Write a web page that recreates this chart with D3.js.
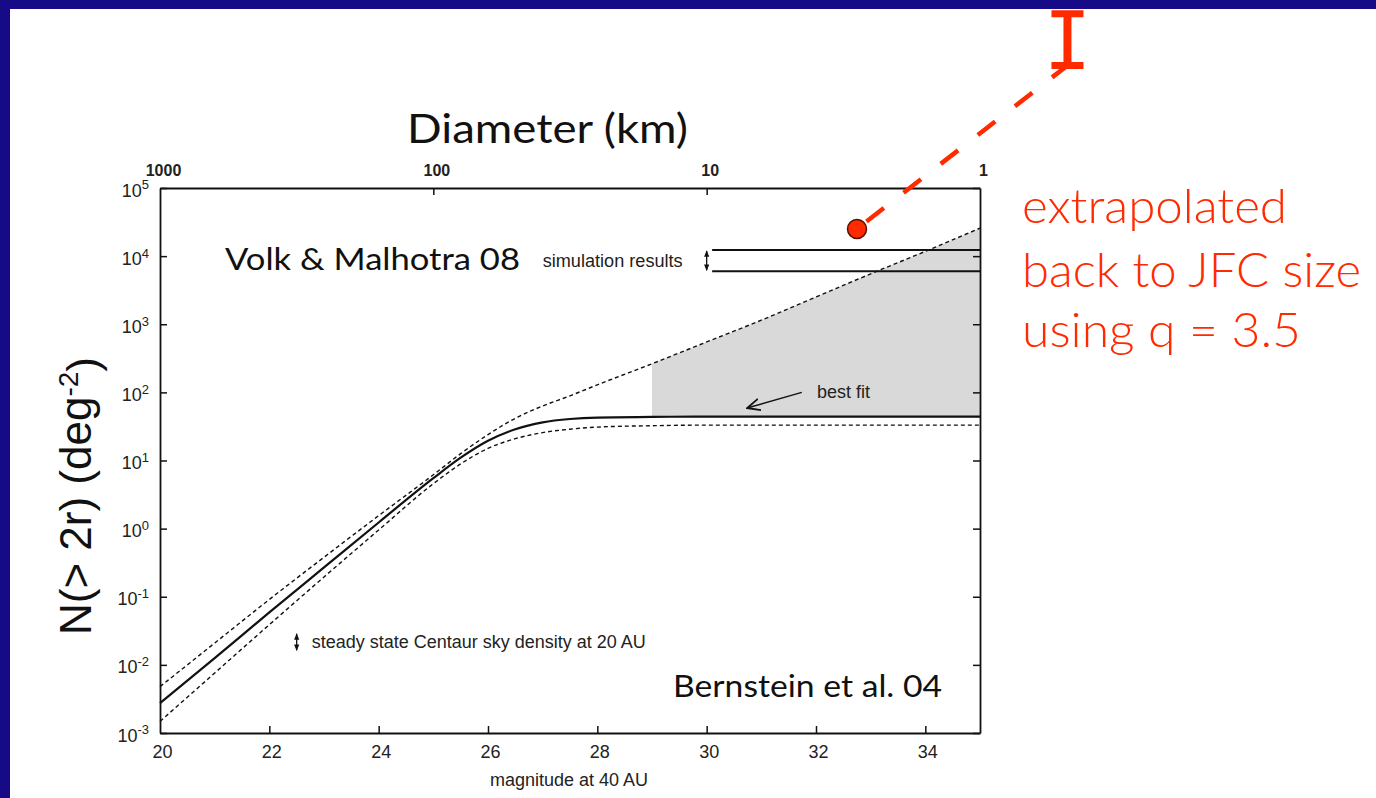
<!DOCTYPE html>
<html>
<head>
<meta charset="utf-8">
<script src="https://cdn.jsdelivr.net/npm/d3@7"></script>
<style>
  html, body { margin: 0; padding: 0; background: #ffffff; }
  svg { display: block; }
</style>
</head>
<body>
<svg id="chart" width="1376" height="798"></svg>
<script>
// Cumulative sky density of trans-Neptunian objects vs. magnitude at 40 AU
const magnitudes = [20, 21, 22, 23, 24, 25, 25.5, 26, 26.5, 27, 27.5, 28, 29, 30, 31, 32, 33, 34, 35];
const bestFit    = [0.00275, 0.0126, 0.0589, 0.269, 1.23, 5.5, 11.0, 19.5, 28.8, 36.3, 40.7, 42.7, 43.6, 44.2, 44.2, 44.2, 44.2, 44.2, 44.2];
const upperBound = [0.00479, 0.0209, 0.0912, 0.380, 1.55, 6.17, 12.6, 24.0, 41.7, 63.1, 89.1, 129, 263, 550, 1148, 2512, 5495, 11750, 25700];
const lowerBound = [0.00148, 0.00759, 0.0389, 0.195, 0.955, 4.57, 8.91, 15.1, 20.9, 25.7, 28.8, 30.9, 32.4, 33.1, 33.1, 33.1, 33.1, 33.1, 33.1];

// Volk & Malhotra 08 simulated range, drawn over 30–35 mag
const simulationRange = [12300, 6000];
const simulationMags = [30.1, 35];
// Steady-state Centaur sky density at 20 AU
const centaurMag = 22.5;
const centaurRange = [0.0295, 0.0158];
// Shading of allowed faint-end region starts here
const shadeStartMag = 29;

// Extrapolation to JFC size with q = 3.5
const extrapStart = { mag: 32.75, n: 25100 };
const extrapBar = { mag: 36.6, low: 6.3e6, high: 3.6e7 };

// Axes
const xDomain = [20, 35];
const yDomain = [1e-3, 1e5];
const xTicks = [20, 22, 24, 26, 28, 30, 32, 34];
const yTicks = [1e-3, 1e-2, 1e-1, 1e0, 1e1, 1e2, 1e3, 1e4, 1e5];
const diameterTicks = [1000, 100, 10, 1];

const svg = d3.select("#chart");
const W = 1376, H = 798;
const plot = { left: 160, right: 980, top: 188, bottom: 733 };

const x = d3.scaleLinear().domain(xDomain).range([plot.left, plot.right]);
const y = d3.scaleLog().domain(yDomain).range([plot.bottom, plot.top]);
// Diameter (km) on top: 5 magnitudes per decade in size
const xd = d3.scaleLog().domain([1000, 1]).range([plot.left, plot.right]);

const helv = "'Liberation Sans', Arial, Helvetica, sans-serif";
const humanist = "Lato, 'Open Sans', sans-serif";

// page frame
svg.append("rect").attr("x", 0).attr("y", 0).attr("width", W).attr("height", H).attr("fill", "#ffffff");
svg.append("rect").attr("x", 0).attr("y", 0).attr("width", W).attr("height", 9).attr("fill", "#170a87");
svg.append("rect").attr("x", 0).attr("y", 0).attr("width", 10).attr("height", H).attr("fill", "#170a87");

const rows = magnitudes.map((m, i) => ({ m, best: bestFit[i], up: upperBound[i], lo: lowerBound[i] }));

// shaded region between best fit and upper bound
const area = d3.area()
  .x(d => x(d.m))
  .y0(d => y(d.best))
  .y1(d => y(d.up))
  .curve(d3.curveMonotoneX);
svg.append("path")
  .datum(rows.filter(d => d.m >= shadeStartMag))
  .attr("d", area)
  .attr("fill", "#d9d9d9");

const lineOf = key => d3.line().x(d => x(d.m)).y(d => y(d[key])).curve(d3.curveMonotoneX);

svg.append("path").datum(rows).attr("d", lineOf("up"))
  .attr("fill", "none").attr("stroke", "#111").attr("stroke-width", 1.4).attr("stroke-dasharray", "4,3");
svg.append("path").datum(rows).attr("d", lineOf("lo"))
  .attr("fill", "none").attr("stroke", "#111").attr("stroke-width", 1.4).attr("stroke-dasharray", "4,3");
svg.append("path").datum(rows).attr("d", lineOf("best"))
  .attr("fill", "none").attr("stroke", "#111").attr("stroke-width", 2.2);

// simulation results lines
svg.selectAll("line.sim").data(simulationRange).enter().append("line")
  .attr("class", "sim")
  .attr("x1", x(simulationMags[0])).attr("x2", x(simulationMags[1]))
  .attr("y1", d => y(d)).attr("y2", d => y(d))
  .attr("stroke", "#111").attr("stroke-width", 2);

// double-headed vertical arrows
const defs = svg.append("defs");
defs.append("marker").attr("id", "ah").attr("viewBox", "0 0 10 10")
  .attr("refX", 9).attr("refY", 5).attr("markerWidth", 5).attr("markerHeight", 5)
  .attr("orient", "auto-start-reverse")
  .append("path").attr("d", "M0,1 L10,5 L0,9 Z").attr("fill", "#111");
defs.append("marker").attr("id", "ahOpen").attr("viewBox", "0 0 12 12")
  .attr("refX", 11).attr("refY", 6).attr("markerWidth", 14).attr("markerHeight", 14)
  .attr("markerUnits", "userSpaceOnUse")
  .attr("orient", "auto")
  .append("path").attr("d", "M0,1 L11,6 L0,11").attr("fill", "none").attr("stroke", "#111").attr("stroke-width", 1.6);

function vArrow(m, n1, n2) {
  svg.append("line")
    .attr("x1", x(m)).attr("x2", x(m))
    .attr("y1", y(n1) + 1).attr("y2", y(n2) - 1)
    .attr("stroke", "#111").attr("stroke-width", 1.3)
    .attr("marker-start", "url(#ah)").attr("marker-end", "url(#ah)");
}
vArrow(30, simulationRange[0], simulationRange[1]);
vArrow(centaurMag, centaurRange[0], centaurRange[1]);

function fitText(sel, width) {
  sel.attr("textLength", width).attr("lengthAdjust", "spacingAndGlyphs");
  return sel;
}

// small annotations
fitText(svg.append("text").attr("x", x(30) - 24).attr("y", y(Math.sqrt(simulationRange[0] * simulationRange[1])) + 6)
  .attr("text-anchor", "end").attr("font-family", helv).attr("font-size", 17.5).attr("fill", "#222")
  .text("simulation results"), 140);
fitText(svg.append("text").attr("x", x(centaurMag) + 15).attr("y", y(Math.sqrt(centaurRange[0] * centaurRange[1])) + 6)
  .attr("font-family", helv).attr("font-size", 17.5).attr("fill", "#222")
  .text("steady state Centaur sky density at 20 AU"), 334);

// best fit label + arrow
fitText(svg.append("text").attr("x", x(32.02)).attr("y", y(Math.pow(10, 1.92)))
  .attr("font-family", helv).attr("font-size", 17.5).attr("fill", "#222").text("best fit"), 53);
svg.append("line")
  .attr("x1", x(31.74)).attr("y1", y(100))
  .attr("x2", x(30.74)).attr("y2", y(Math.pow(10, 1.77)))
  .attr("stroke", "#111").attr("stroke-width", 1.5)
  .attr("marker-end", "url(#ahOpen)");

// axes frame
const axisStyle = g => {
  g.select(".domain").attr("stroke", "#111").attr("stroke-width", 1.8);
  g.selectAll(".tick line").attr("stroke", "#111").attr("stroke-width", 1.5);
  g.selectAll("text").attr("font-family", helv).attr("fill", "#222");
};

const gBottom = svg.append("g").attr("transform", `translate(0,${plot.bottom})`)
  .call(d3.axisBottom(x).tickValues(xTicks).tickFormat(d3.format("d")).tickSizeInner(-7).tickSizeOuter(0).tickPadding(12))
  .call(axisStyle);
gBottom.selectAll("text").attr("font-size", 18).attr("dx", 2);
gBottom.selectAll(".tick").filter(d => d === 20).select("line").remove();

svg.append("g").attr("transform", `translate(${plot.right},0)`)
  .call(d3.axisRight(y).tickValues(yTicks).tickFormat("").tickSizeInner(-7).tickSizeOuter(0))
  .call(axisStyle);

const gLeft = svg.append("g").attr("transform", `translate(${plot.left},0)`)
  .call(d3.axisLeft(y).tickValues(yTicks).tickSizeInner(-7).tickSizeOuter(0).tickPadding(11))
  .call(axisStyle);
gLeft.selectAll("text").each(function(d) {
  const t = d3.select(this);
  t.text(null).attr("font-size", 18).attr("dy", "0.45em");
  t.append("tspan").text("10");
  t.append("tspan").attr("dy", "-0.55em").attr("font-size", 13).text(String(Math.round(Math.log10(d))));
});

const gTop = svg.append("g").attr("transform", `translate(0,${plot.top})`)
  .call(d3.axisTop(xd).tickValues(diameterTicks).tickFormat(d3.format("d")).tickSizeInner(-7).tickSizeOuter(0).tickPadding(12))
  .call(axisStyle);
gTop.selectAll("text").attr("font-size", 16).attr("font-weight", "bold").attr("dx", 3);
gTop.selectAll(".tick").filter(d => d === 1000 || d === 1).select("line").remove();

// axis titles
fitText(svg.append("text").attr("x", (plot.left + plot.right) / 2 - 1).attr("y", 786)
  .attr("text-anchor", "middle").attr("font-family", helv).attr("font-size", 17.5).attr("fill", "#222")
  .text("magnitude at 40 AU"), 158);

fitText(svg.append("text").attr("x", 407).attr("y", 143)
  .attr("font-family", humanist).attr("font-size", 40).attr("fill", "#111")
  .text("Diameter (km)"), 281);

const yl = svg.append("text")
  .attr("transform", "translate(91,496) rotate(-90)")
  .attr("text-anchor", "middle").attr("font-family", helv).attr("font-size", 44).attr("fill", "#111");
yl.append("tspan").text("N(> 2r) (deg");
yl.append("tspan").attr("dy", "-0.45em").attr("font-size", 28).text("-2");
yl.append("tspan").attr("dy", "0.45em").text(")");

fitText(svg.append("text").attr("x", 225).attr("y", 270)
  .attr("font-family", humanist).attr("font-size", 31).attr("fill", "#111")
  .text("Volk & Malhotra 08"), 295);

fitText(svg.append("text").attr("x", 673).attr("y", 697)
  .attr("font-family", humanist).attr("font-size", 31).attr("fill", "#111")
  .text("Bernstein et al. 04"), 269);

// extrapolation: dashed red line, point and range bar
const red = "#ff2a00";
svg.append("line")
  .attr("x1", x(extrapStart.mag)).attr("y1", y(extrapStart.n))
  .attr("x2", x(extrapBar.mag)).attr("y2", y(extrapBar.low))
  .attr("stroke", red).attr("stroke-width", 4.5).attr("stroke-dasharray", "22,25").attr("stroke-dashoffset", -12);
const bx = x(extrapBar.mag);
svg.append("line").attr("x1", bx).attr("x2", bx).attr("y1", y(extrapBar.high)).attr("y2", y(extrapBar.low))
  .attr("stroke", red).attr("stroke-width", 8);
[extrapBar.high, extrapBar.low].forEach(v => {
  svg.append("line").attr("x1", bx - 16).attr("x2", bx + 16).attr("y1", y(v)).attr("y2", y(v))
    .attr("stroke", red).attr("stroke-width", 7);
});
svg.append("circle").attr("cx", x(extrapStart.mag)).attr("cy", y(extrapStart.n)).attr("r", 9.5)
  .attr("fill", red).attr("stroke", "#5a1000").attr("stroke-width", 1.5);

const redLines = ["extrapolated", "back to JFC size", "using q = 3.5"];
const redBase = [223, 287, 347];
const redWidths = [265, 339, 279];
redLines.forEach((s, i) => {
  fitText(svg.append("text").attr("x", 1022).attr("y", redBase[i])
    .attr("font-family", humanist).attr("font-weight", 300).attr("font-size", 47).attr("fill", red)
    .text(s), redWidths[i]);
});
</script>
</body>
</html>
